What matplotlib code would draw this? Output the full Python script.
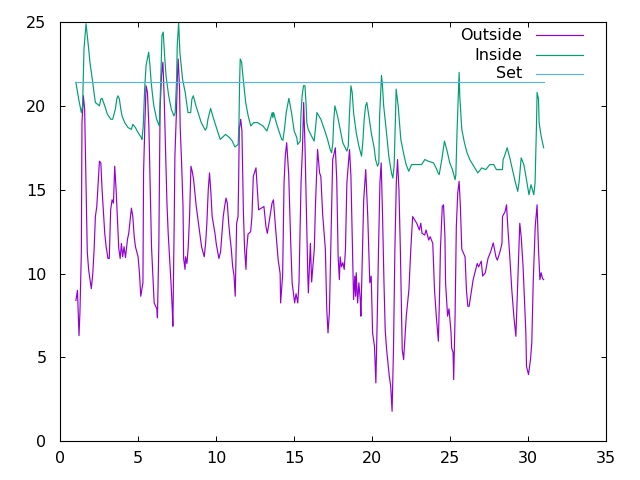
import matplotlib
matplotlib.use("Agg")
import matplotlib.pyplot as plt

# outside temperature (day, deg C)
out_days = [1.0, 1.1, 1.2, 1.26, 1.35, 1.39, 1.48, 1.56, 1.65, 1.73, 1.82, 1.99, 2.08, 2.17,
            2.25, 2.34, 2.51, 2.6, 2.68, 2.85, 2.94, 3.06, 3.14, 3.23, 3.32, 3.41, 3.49, 3.58,
            3.66, 3.75, 3.84, 3.92, 4.0, 4.09, 4.18, 4.31, 4.39, 4.48, 4.56, 4.65, 4.74, 4.82,
            4.99, 5.08, 5.16, 5.3, 5.34, 5.42, 5.5, 5.59, 5.68, 5.76, 5.85, 5.94, 6.02, 6.19,
            6.23, 6.32, 6.4, 6.49, 6.58, 6.66, 6.75, 6.84, 6.92, 7.01, 7.1, 7.18, 7.22, 7.31,
            7.35, 7.44, 7.52, 7.56, 7.65, 7.69, 7.78, 7.87, 7.91, 8.0, 8.03, 8.12, 8.2, 8.29,
            8.38, 8.46, 8.55, 8.72, 8.89, 9.06, 9.23, 9.32, 9.4, 9.49, 9.57, 9.66, 9.74, 9.92,
            10.0, 10.17, 10.28, 10.45, 10.54, 10.63, 10.71, 10.8, 10.88, 10.97, 11.05, 11.14,
            11.22, 11.31, 11.4, 11.44, 11.48, 11.57, 11.65, 11.7, 11.74, 11.82, 11.91, 11.95,
            12.04, 12.21, 12.29, 12.38, 12.55, 12.68, 12.72, 13.06, 13.19, 13.28, 13.45, 13.58,
            13.67, 13.8, 13.97, 14.1, 14.13, 14.26, 14.35, 14.43, 14.52, 14.65, 14.78, 14.87,
            15.03, 15.12, 15.23, 15.31, 15.44, 15.53, 15.61, 15.7, 15.78, 15.87, 15.91, 16.04,
            16.08, 16.12, 16.29, 16.37, 16.5, 16.63, 16.71, 16.83, 17.0, 17.09, 17.17, 17.26,
            17.39, 17.47, 17.64, 17.73, 17.82, 17.9, 17.95, 18.03, 18.12, 18.21, 18.29, 18.38,
            18.55, 18.64, 18.72, 18.81, 18.89, 18.94, 18.98, 19.07, 19.15, 19.24, 19.28, 19.33,
            19.46, 19.59, 19.72, 19.85, 19.94, 20.03, 20.15, 20.24, 20.33, 20.41, 20.5, 20.58,
            20.67, 20.76, 20.84, 20.93, 21.1, 21.19, 21.28, 21.37, 21.46, 21.55, 21.63, 21.72,
            21.81, 21.89, 21.93, 22.02, 22.19, 22.36, 22.48, 22.6, 22.86, 23.03, 23.12, 23.2,
            23.37, 23.46, 23.63, 23.72, 23.89, 24.0, 24.12, 24.25, 24.33, 24.38, 24.5, 24.58,
            24.67, 24.71, 24.84, 24.93, 25.06, 25.1, 25.19, 25.23, 25.32, 25.4, 25.49, 25.58,
            25.66, 25.75, 25.96, 26.05, 26.14, 26.22, 26.48, 26.74, 26.83, 27.0, 27.09, 27.26,
            27.43, 27.6, 27.77, 27.94, 28.03, 28.2, 28.33, 28.36, 28.53, 28.62, 28.7, 28.83,
            28.96, 29.09, 29.22, 29.3, 29.39, 29.47, 29.56, 29.68, 29.77, 29.86, 29.9, 30.03,
            30.16, 30.24, 30.33, 30.46, 30.58, 30.67, 30.76, 30.84, 30.93, 31.0]
out_temp = [8.4, 9.0, 6.3, 7.7, 11.3, 19.0, 20.6, 19.8, 15.4, 11.3, 10.2, 9.1, 9.96, 11.45,
            13.4, 14.0, 16.7, 16.6, 15.0, 12.4, 11.6, 10.9, 10.9, 13.8, 14.4, 14.2, 16.4, 15.0,
            13.4, 11.5, 10.9, 11.8, 11.0, 11.6, 10.95, 12.05, 12.4, 13.2, 13.9, 13.4, 12.2, 11.6,
            11.0, 10.0, 8.65, 9.45, 16.0, 18.8, 21.2, 20.8, 18.8, 15.4, 11.6, 9.85, 8.25, 7.9,
            7.36, 11.7, 19.8, 21.8, 22.6, 20.6, 17.4, 14.2, 12.4, 10.9, 9.45, 7.9, 6.86, 13.4,
            17.0, 19.4, 22.0, 22.8, 21.0, 18.7, 16.6, 14.0, 10.9, 10.25, 11.0, 10.6, 11.5, 13.4,
            16.4, 16.1, 15.6, 14.0, 12.8, 11.6, 11.0, 11.8, 13.0, 15.0, 16.0, 14.8, 13.4, 12.4,
            11.8, 10.9, 11.3, 13.4, 14.0, 14.5, 14.2, 13.0, 12.2, 11.45, 10.45, 9.9,
            8.65, 13.0, 13.4, 15.6, 18.6, 19.2, 18.5, 15.9, 13.8, 11.45, 10.25, 11.4,
            12.35, 12.5, 13.4, 15.8, 16.3, 14.4, 13.8, 14.0, 12.8, 12.4, 13.4, 14.2,
            14.4, 12.8, 10.85, 10.0, 8.25, 9.9, 15.4, 17.0, 17.8, 15.9, 11.8, 9.45,
            8.25, 8.8, 8.25, 9.45, 15.4, 17.4, 20.2, 17.4, 14.0, 10.05, 8.85, 11.8,
            10.65, 9.5, 11.45, 14.2, 17.4, 16.0, 15.8, 13.5, 11.45, 7.9, 6.46, 7.7,
            13.4, 16.8, 17.5, 15.6, 11.0, 9.64, 11.0, 10.4, 10.65, 10.25, 11.45, 15.4,
            17.4, 15.8, 12.4, 8.45, 9.85, 8.65, 10.05, 8.25, 9.45, 8.45, 7.46, 9.45,
            14.4, 16.2, 13.4, 9.45, 9.85, 6.46, 5.67, 3.48, 7.46, 11.45, 15.4, 16.6,
            13.4, 9.45, 6.6, 5.47, 3.88, 3.3, 1.79, 5.5, 11.45, 15.4, 16.8, 15.0,
            11.45, 7.46, 5.47, 4.87, 7.46, 9.05, 11.45, 13.4, 13.0, 12.6, 13.0, 12.4,
            12.3, 12.6, 12.0, 12.2, 11.8, 9.05, 7.4, 5.97, 9.0, 11.45, 14.0, 14.1,
            12.2, 9.45, 7.46, 7.9, 6.5, 5.57, 5.3, 3.68, 7.46, 12.8, 14.8, 15.5,
            14.0, 11.45, 11.0, 9.0, 8.05, 8.05, 9.64, 10.6, 10.4, 10.74, 9.85, 10.05,
            10.9, 11.3, 11.83, 11.0, 10.8, 11.3, 11.8, 13.4, 13.7, 14.1, 12.8, 11.0,
            9.0, 7.46, 6.26, 8.45, 10.85, 13.0, 12.2, 10.45, 8.45, 6.46, 4.47, 3.98,
            4.9, 5.87, 9.45, 12.8, 14.1, 11.45, 9.64, 10.05, 9.7, 9.64]

# inside temperature
in_days = [1.0, 1.18, 1.35, 1.43, 1.47, 1.52, 1.65, 1.73, 1.82, 1.9, 1.99, 2.08, 2.16, 2.25,
           2.51, 2.6, 2.68, 2.85, 3.02, 3.24, 3.36, 3.53, 3.62, 3.7, 3.79, 3.88, 3.96, 4.13,
           4.35, 4.56, 4.65, 4.82, 4.99, 5.2, 5.24, 5.32, 5.41, 5.5, 5.67, 5.75, 5.83, 5.92,
           6.0, 6.18, 6.35, 6.44, 6.52, 6.6, 6.69, 6.78, 6.95, 7.12, 7.29, 7.37, 7.46, 7.5,
           7.59, 7.63, 7.67, 7.84, 8.01, 8.1, 8.19, 8.36, 8.44, 8.53, 8.7, 8.87, 9.04, 9.3,
           9.39, 9.47, 9.64, 9.81, 9.98, 10.15, 10.26, 10.6, 10.86, 11.03, 11.2, 11.41, 11.46,
           11.5, 11.54, 11.63, 11.71, 11.8, 11.89, 12.05, 12.22, 12.4, 12.65, 13.0, 13.25,
           13.42, 13.59, 13.63, 13.68, 13.85, 14.02, 14.2, 14.28, 14.4, 14.49, 14.66, 14.83,
           15.0, 15.17, 15.22, 15.39, 15.43, 15.51, 15.6, 15.69, 15.77, 15.81, 15.9, 16.11,
           16.28, 16.37, 16.46, 16.71, 16.97, 17.14, 17.31, 17.4, 17.48, 17.53, 17.61, 17.78,
           17.95, 18.12, 18.38, 18.47, 18.55, 18.64, 18.72, 18.81, 18.98, 19.15, 19.32, 19.4,
           19.49, 19.58, 19.66, 19.79, 19.96, 20.13, 20.22, 20.35, 20.43, 20.48, 20.6, 20.65,
           20.74, 20.9, 21.07, 21.24, 21.33, 21.41, 21.5, 21.54, 21.67, 21.84, 22.01, 22.18,
           22.35, 22.53, 23.17, 23.38, 23.6, 23.94, 24.15, 24.23, 24.3, 24.47, 24.64, 24.81,
           24.98, 25.15, 25.32, 25.37, 25.45, 25.54, 25.58, 25.62, 25.75, 25.92, 26.09, 26.26,
           26.52, 26.78, 27.03, 27.29, 27.55, 27.8, 27.97, 28.36, 28.4, 28.49, 28.66, 28.83,
           29.0, 29.17, 29.34, 29.43, 29.56, 29.73, 29.9, 30.06, 30.19, 30.37, 30.45, 30.54,
           30.58, 30.67, 30.71, 30.84, 31.0]
in_temp = [21.4, 20.4, 19.6, 20.0, 21.6, 23.4, 24.9, 24.2, 23.4, 22.6, 22.0, 21.4, 20.8, 20.2,
           20.0, 20.4, 20.45, 20.0, 19.5, 19.2, 19.2, 19.8, 20.4, 20.6, 20.4, 19.8, 19.4, 19.0,
           18.7, 18.6, 18.9, 18.7, 18.4, 18.1, 18.0, 18.8, 21.0, 22.4, 23.2, 22.4, 21.4, 20.6,
           20.0, 19.2, 18.8, 21.4, 24.2, 24.4, 23.0, 21.8, 20.6, 19.8, 19.4, 19.6, 21.6, 23.6,
           24.95, 24.0, 23.2, 21.6, 20.8, 20.2, 19.6, 19.6, 20.4, 20.6, 20.0, 19.5, 19.0, 18.55,
           18.7, 19.2, 19.85, 19.3, 18.8, 18.3, 18.0, 18.3, 18.1, 17.9, 17.55, 17.7, 19.0,
           21.4, 22.8, 22.6, 21.8, 21.0, 20.2, 19.4, 18.8, 19.0, 19.0, 18.8, 18.5,
           19.0, 19.6, 19.3, 19.6, 19.0, 18.5, 18.0, 17.95, 18.8, 19.6, 20.45, 19.6,
           18.5, 18.1, 17.7, 17.9, 19.4, 20.6, 21.2, 21.2, 20.0, 19.0, 18.6, 18.2,
           17.9, 18.7, 19.6, 19.2, 18.5, 18.0, 17.4, 17.2, 17.8, 19.0, 20.0, 19.4,
           18.6, 17.8, 17.3, 17.6, 19.6, 21.2, 20.8, 19.6, 18.4, 17.6, 17.0, 17.8,
           19.2, 20.0, 20.2, 19.4, 18.3, 17.5, 16.8, 16.4, 16.6, 19.4, 21.8, 21.4,
           20.0, 18.6, 17.0, 16.0, 15.7, 16.4, 19.4, 21.0, 20.0, 18.0, 17.2, 16.5,
           16.1, 16.5, 16.5, 16.8, 16.7, 16.6, 16.2, 16.0, 15.9, 16.8, 17.9, 17.3,
           16.6, 16.2, 15.6, 15.9, 18.6, 21.0, 22.0, 20.6, 18.6, 17.8, 17.2, 16.8,
           16.4, 16.0, 16.3, 16.2, 16.5, 16.5, 16.2, 16.2, 16.8, 17.0, 17.5, 16.9,
           16.2, 15.5, 14.9, 15.5, 16.9, 16.5, 15.6, 14.7, 15.3, 14.7, 15.4, 18.8,
           20.8, 20.4, 19.0, 18.2, 17.5]

# thermostat set point
set_days = [1.0, 31.0]
set_temp = [21.4, 21.4]

labels = ["Outside", "Inside", "Set"]
colors = ["#9400d3", "#009e73", "#56b4e9"]

plt.rcParams['font.family'] = ['DejaVu Sans']
fig = plt.figure(figsize=(6.4, 4.8), dpi=100)
ax = fig.add_axes([60.3 / 640, 1 - 441.3 / 480, 545.7 / 640, 419.3 / 480])

lw = 0.85
ax.plot(out_days, out_temp, color=colors[0], lw=lw)
ax.plot(in_days, in_temp, color=colors[1], lw=lw)
ax.plot(set_days, set_temp, color=colors[2], lw=lw)

ax.set_xlim(0, 35)
ax.set_ylim(0, 25)
ax.set_xticks(range(0, 36, 5))
ax.set_yticks(range(0, 26, 5))
ax.tick_params(direction='in', length=3.3, width=0.7, top=True, right=True,
               labelsize=11.5, colors='black')
ax.tick_params(axis='x', pad=7)
ax.tick_params(axis='y', pad=10)
for s in ax.spines.values():
    s.set_linewidth(0.8)

# gnuplot style key: right aligned text, sample line after it
rows = [0.968, 0.921, 0.876]
for lab, col, yy in zip(labels, colors, rows):
    ax.text(0.846, yy, lab, transform=ax.transAxes, ha='right', va='center',
            fontsize=11.5)
    ax.plot([0.872, 0.957], [yy, yy], transform=ax.transAxes, color=col, lw=lw)

fig.savefig("out.png", dpi=100)
